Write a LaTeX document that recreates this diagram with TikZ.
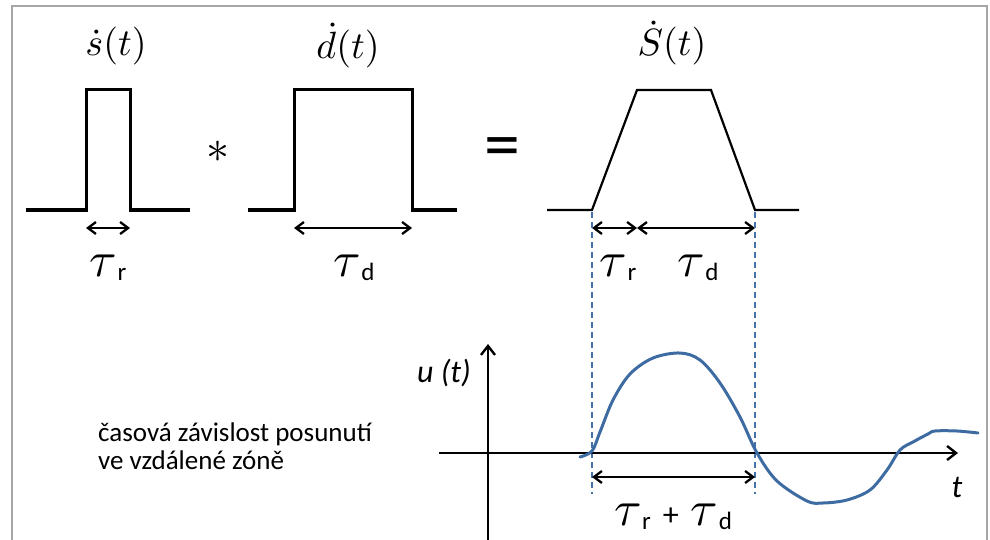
\documentclass[tikz,border=0pt]{standalone}
\usepackage{graphicx}
\usepackage{fontspec}
\setmainfont{Carlito}
\setsansfont{Carlito}
\usetikzlibrary{arrows.meta}
\definecolor{framegray}{RGB}{166,166,166}
\definecolor{curveblue}{RGB}{62,108,162}
\definecolor{dashblue}{RGB}{70,114,170}
\newcommand\tausub[1]{\scalebox{5}{$\tau$}\kern0.5pt\raisebox{-4pt}{\fontsize{25}{25}\selectfont #1}}
\begin{document}
\begin{tikzpicture}[x=1pt,y=-1pt,
  wave/.style={line width=3pt, line join=miter},
  trap/.style={line width=2.2pt, line join=miter},
  dimarrow/.style={line width=2.3pt, {Straight Barb[length=8pt,width=12pt]}-{Straight Barb[length=8pt,width=12pt]}},
  axisarrow/.style={line width=2.4pt, -{Straight Barb[length=9pt,width=14pt]}},
  guide/.style={dashblue, line width=1.5pt, dash pattern=on 6pt off 4pt},
  title/.style={font=\fontsize{10}{12}\selectfont, inner sep=0pt},
  taulbl/.style={font=\fontsize{10}{12}\selectfont, inner sep=0pt},
  plain/.style={font=\fontsize{27}{31}\selectfont, inner sep=0pt},
  axlbl/.style={font=\fontsize{32}{36}\selectfont\itshape, inner sep=0pt}
]
\useasboundingbox (0,0) rectangle (990,540);
% frame
\draw[framegray, line width=1.5pt] (12,548) -- (12,6) -- (987,6) -- (987,548);

% titles
\node[title] (ts) at (116,46) {\scalebox{3.8}{$\dot{s}(t)$}};
\node[title] (td) at (348,46) {\scalebox{3.8}{$\dot{d}(t)$}};
\node[title] (tS) at (672,43) {\scalebox{3.8}{$\dot{S}(t)$}};

% pulse 1
\draw[wave] (26,210) -- (86,210) -- (86,90) -- (130,90) -- (130,210) -- (190,210);
% pulse 2
\draw[wave] (248,210) -- (294,210) -- (294,90) -- (412,90) -- (412,210) -- (457,210);
% trapezoid
\draw[trap] (547,210) -- (592,210) -- (637,90) -- (711,90) -- (755,210) -- (799,210);

% operators
\node[inner sep=0pt] (ast) at (218,152) {\scalebox{4.6}{$\ast$}};
\node[font=\fontsize{72}{72}\selectfont, inner sep=0pt] (eq) at (502,153) {=};

% dimension arrows (top)
\coordinate (a1l) at (86,228);  \coordinate (a1r) at (130,228);
\coordinate (a2l) at (294,228); \coordinate (a2r) at (412,228);
\coordinate (a3l) at (592,228); \coordinate (a3m) at (637,228); \coordinate (a3r) at (755,228);
\draw[dimarrow] (a1l) -- (a1r);
\draw[dimarrow] (a2l) -- (a2r);
\draw[dimarrow] (a3l) -- (a3m);
\draw[dimarrow] (a3m) -- (a3r);

\node[taulbl] (l1) at (108,268) {\tausub{r}};
\node[taulbl] (l2) at (354,268) {\tausub{d}};
\node[taulbl] (l3) at (618,268) {\tausub{r}};
\node[taulbl] (l4) at (698,268) {\tausub{d}};

% guide lines
\coordinate (g1t) at (592,212); \coordinate (g1b) at (592,494);
\coordinate (g2t) at (755,212); \coordinate (g2b) at (755,494);
\draw[guide] (g1t) -- (g1b);
\draw[guide] (g2t) -- (g2b);

% axes
\coordinate (yb) at (488,545); \coordinate (yt) at (488,344);
\coordinate (xl) at (439,453); \coordinate (xr) at (958,453);
\draw[axisarrow] (yb) -- (yt);
\draw[axisarrow] (xl) -- (xr);
\node[axlbl] (ul) at (444,373) {u (t)};
\node[axlbl] (tl) at (957,487) {t};

% curve
\draw[curveblue, line width=3pt, line cap=round] plot[smooth, tension=0.55] coordinates {
 (580,457) (592,451) (600,432) (613,400) (630,374) (653,358) (680,353) (700,360)
 (720,383) (740,417) (757,453) (777,481) (807,501) (823,503) (847,500) (870,490)
 (887,470) (900,450) (913,442) (928,434) (935,431) (957,431) (978,433)};

% bottom dimension arrow
\coordinate (b1l) at (592,477); \coordinate (b1r) at (755,477);
\draw[dimarrow] (b1l) -- (b1r);
\node[taulbl] (l5) at (673,517) {\tausub{r}\hspace{12pt}{\fontsize{32}{32}\selectfont +}\hspace{12pt}\tausub{d}};

% description
\node[plain, anchor=base west] (desc1) at (98,441) {časová závislost posunutí};
\node[plain, anchor=base west] (desc2) at (98,469) {ve vzdálené zóně};
\end{tikzpicture}
\end{document}
